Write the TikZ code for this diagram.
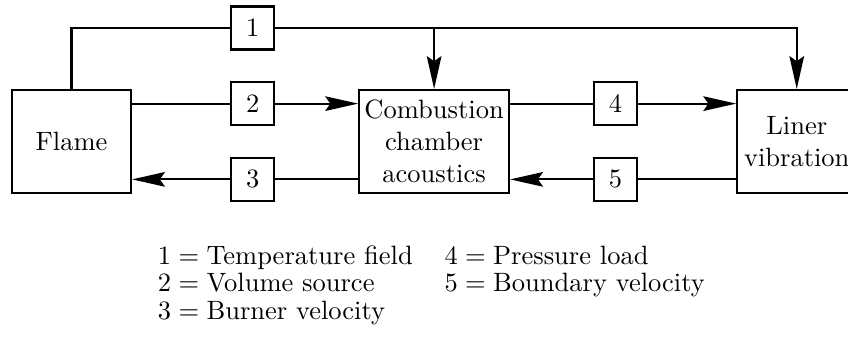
\documentclass[tikz,border=0pt]{standalone}
\usepackage{amsmath}
\usetikzlibrary{positioning, arrows.meta, calc}

\begin{document}
\begin{tikzpicture}[scale=0.9755,->,>={Stealth[length=12.4pt,width=5.5pt,inset=1.9pt]},thick,node distance=4.81cm,
    block/.style={draw,align=center,inner xsep=2pt,minimum width=44.9pt,minimum height=38.8pt},
    tag/.style={draw,minimum size=16.2pt,inner sep=0pt}]
    \useasboundingbox (-0.972,-2.645) rectangle (10.558,1.924);

    \node[block] (fl) {Flame};
    \node[block] (cc) [right of=fl] {Combustion\\chamber\\acoustics};
    \node[block] (lv) [right of=cc] {Liner\\vibration};

    \node[tag] (t1) at ($(fl)!0.5!(cc)+(0,1.543)$) {1};
    \node[tag] (t2) at ($(fl)!0.5!(cc)+(0,0.515)$) {2};
    \node[tag] (t3) at ($(fl)!0.5!(cc)+(0,-0.515)$) {3};
    \node[tag] (t4) at ($(cc)!0.5!(lv)+(0,0.515)$) {4};
    \node[tag] (t5) at ($(cc)!0.5!(lv)+(0,-0.515)$) {5};

    \draw[-] (fl.north) |- (t1);
    \draw (t1) -| (lv.north);
    \draw (t1 -| cc.north) -- (cc.north);

    \draw[-] (fl.east |- t2) -- (t2);
    \draw (t2) -- (cc.west |- t2);
    \draw[-] (cc.west |- t3) -- (t3);
    \draw (t3) -- (fl.east |- t3);

    \draw[-] (cc.east |- t4) -- (t4);
    \draw (t4) -- (lv.west |- t4);
    \draw[-] (lv.west |- t5) -- (t5);
    \draw (t5) -- (cc.east |- t5);

    \node[anchor=base west,inner sep=0pt] (legend) at (0.945,-1.666) {%
        \renewcommand{\arraystretch}{0.865}%
        \begin{tabular}[t]{ll}
            $1 = \text{Temperature field}$ & $4 = \text{Pressure load}$\\
            $2 = \text{Volume source}$ & $5 = \text{Boundary velocity}$\\
            $3 = \text{Burner velocity}$ &
        \end{tabular}};
\end{tikzpicture}
\end{document}
